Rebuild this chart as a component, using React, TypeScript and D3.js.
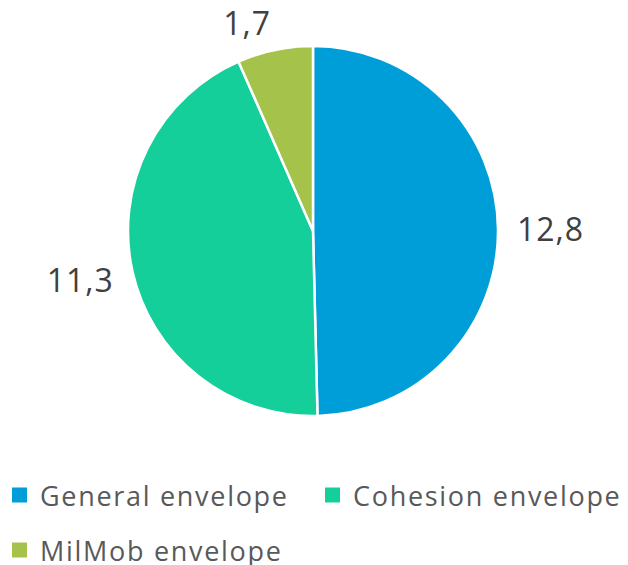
import * as d3 from 'd3';
import React, { useEffect, useRef } from 'react';

const categories = ['General envelope', 'Cohesion envelope', 'MilMob envelope'];
const values = [12.8, 11.3, 1.7];
const labels = ['12,8', '11,3', '1,7'];
const colors = ['#009ed8', '#14cf99', '#a5c24a'];

const App: React.FC = () => {
    const svgRef = useRef<SVGSVGElement | null>(null);

    useEffect(() => {
        const width = 628;
        const height = 565;
        const cx = 313;
        const cy = 231;
        const r = 185;
        const font = "'Open Sans', sans-serif";

        d3.select(svgRef.current).selectAll('*').remove();

        const svg = d3
            .select(svgRef.current)
            .attr('width', width)
            .attr('height', height);

        const pie = d3.pie<number>().sort(null).value(d => d);
        const arcs = pie(values);
        const arc = d3.arc<d3.PieArcDatum<number>>().innerRadius(0).outerRadius(r);

        const g = svg.append('g').attr('transform', `translate(${cx},${cy})`);

        g.selectAll('path')
            .data(arcs)
            .enter()
            .append('path')
            .attr('d', arc)
            .attr('fill', (_, i) => colors[i])
            .attr('stroke', '#fff')
            .attr('stroke-width', 2.5)
            .attr('stroke-linejoin', 'round');

        // data labels outside the slices, box pushed away from the anchor point
        const clamp = (v: number) => Math.max(-1, Math.min(1, v));
        g.selectAll('.lbl')
            .data(arcs)
            .enter()
            .append('text')
            .attr('class', 'lbl')
            .attr('font-family', font)
            .attr('font-size', 32)
            .attr('letter-spacing', 1)
            .attr('fill', '#404040')
            .attr('text-anchor', 'middle')
            .attr('dominant-baseline', 'central')
            .text((_, i) => labels[i])
            .each(function (d) {
                const node = this as SVGTextElement;
                const hw = node.getComputedTextLength() / 2;
                const hh = 9;
                const a = (d.startAngle + d.endAngle) / 2;
                const s = Math.sin(a);
                const c = -Math.cos(a);
                const ax = (r + 19) * s;
                const ay = (r + 19) * c;
                d3.select(node)
                    .attr('x', ax + hw * clamp(s * 5))
                    .attr('y', ay + hh * clamp(c * 2));
            });

        // legend
        const legendPos = [
            { x: 12, y: 495 },
            { x: 325, y: 495 },
            { x: 12, y: 550 },
        ];
        const leg = svg
            .selectAll('.leg')
            .data(categories)
            .enter()
            .append('g')
            .attr('class', 'leg')
            .attr('transform', (_, i) => `translate(${legendPos[i].x},${legendPos[i].y})`);

        leg.append('rect')
            .attr('x', 0)
            .attr('y', -7.5)
            .attr('width', 15)
            .attr('height', 15)
            .attr('fill', (_, i) => colors[i]);

        leg.append('text')
            .attr('x', 28)
            .attr('y', 0)
            .attr('dominant-baseline', 'central')
            .attr('font-family', font)
            .attr('font-size', 27)
            .attr('letter-spacing', 1.7)
            .attr('fill', '#595959')
            .text(d => d);
    }, []);

    return <svg ref={svgRef} style={{ position: 'absolute', left: 0, top: 0 }}></svg>;
};

export default App;
